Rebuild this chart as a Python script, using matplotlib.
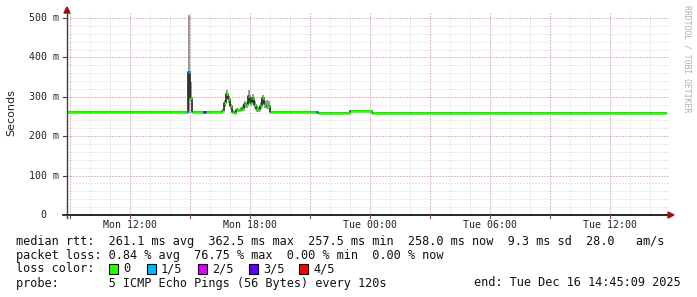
import matplotlib
matplotlib.use("Agg")
import matplotlib.pyplot as plt
from matplotlib.patches import Rectangle, Polygon

# ---------------- data ----------------
# time in hours since Mon 00:00 (start of each consolidated step)
times = [8.85, 12.0, 12.1, 14.8, 14.9, 15.0, 15.1, 15.65, 15.8,
         16.5, 16.6, 16.7, 16.8, 16.9, 17.0, 17.1, 17.2, 17.3, 17.4,
         17.5, 17.6, 17.7, 17.8, 17.9, 18.0, 18.1, 18.2, 18.3, 18.4,
         18.5, 18.6, 18.7, 18.8, 18.9,
         19.0, 21.25, 21.35, 21.4, 23.0, 24.1]
end_time = 38.8
median_ms = [260.5, 262, 260.5, 260.5, 363, 298, 260.5, 260.5, 260.5,
             261, 265, 285, 308, 295, 276, 262, 260, 266, 266,
             267, 270, 281, 280, 303, 285, 296, 280, 268, 267,
             276, 298, 282, 277, 276,
             260.5, 260.5, 260.5, 258.5, 263, 258.5]
loss = [0, 0, 0, 1, 1, 0, 0, 3, 0,
        0, 0, 0, 0, 0, 0, 0, 0, 0, 0,
        0, 0, 0, 0, 0, 0, 0, 0, 0, 0,
        0, 0, 0, 0, 0,
        0, 1, 2, 0, 0, 0]
smoke_lo = [260.5, 262, 260.5, 260.5, 260, 290, 260.5, 260.5, 260.5,
            261, 262, 275, 296, 285, 268, 258, 257, 262, 262,
            263, 265, 272, 272, 290, 276, 285, 272, 262, 262,
            268, 285, 272, 270, 268,
            260.5, 260.5, 260.5, 258.5, 263, 258.5]
smoke_hi = [260.5, 262, 260.5, 260.5, 507, 338, 260.5, 260.5, 260.5,
            261, 270, 292, 318, 302, 282, 266, 264, 272, 270,
            274, 278, 290, 288, 316, 292, 306, 290, 276, 274,
            288, 305, 290, 292, 290,
            260.5, 260.5, 260.5, 258.5, 263, 258.5]

loss_labels = ["0", "1/5", "2/5", "3/5", "4/5"]
loss_colors = ["#26ff00", "#00b8ff", "#dd00ff", "#5e00ff", "#ff0000"]

x_tick_pos = [12, 18, 24, 30, 36]
x_tick_labels = ["Mon 12:00", "Mon 18:00", "Tue 00:00", "Tue 06:00", "Tue 12:00"]
y_tick_pos = [0, 100, 200, 300, 400, 500]
y_tick_labels = ["0  ", "100 m", "200 m", "300 m", "400 m", "500 m"]

stats_lines = [
    "median rtt:  261.1 ms avg  362.5 ms max  257.5 ms min  258.0 ms now  9.3 ms sd  28.0   am/s",
    "packet loss: 0.84 % avg  76.75 % max  0.00 % min  0.00 % now",
    "loss color:",
    "probe:       5 ICMP Echo Pings (56 Bytes) every 120s",
]
end_text = "end: Tue Dec 16 14:45:09 2025"

# ---------------- figure ----------------
W, H = 697, 297
fig = plt.figure(figsize=(W / 100, H / 100), dpi=100)
fig.patch.set_facecolor("white")

PX_L, PX_R, PX_B, PX_T = 67, 667, 215, 13
X0, X1 = 8.85, 38.85
Y0, Y1 = 0, (PX_B - PX_T) / 0.394

ax = fig.add_axes([PX_L / W, 1 - PX_B / H, (PX_R - PX_L) / W, (PX_B - PX_T) / H])
ax.set_xlim(X0, X1)
ax.set_ylim(Y0, Y1)
for s in ax.spines.values():
    s.set_visible(False)
ax.set_facecolor("white")

def px2x(px):
    return X0 + (px - PX_L) * (X1 - X0) / (PX_R - PX_L)

def py2y(py):
    return (PX_B - py) / (PX_B - PX_T) * (Y1 - Y0)

dot = (0, (1, 2))
# minor grid
h = 9
while h <= X1 + 0.1:
    ax.plot([h, h], [0, Y1], color="#808080", alpha=0.35, lw=0.72, ls=dot, zorder=1, clip_on=False)
    h += 1
v = 20
while v <= 500:
    ax.plot([X0, px2x(669)], [v, v], color="#808080", alpha=0.35, lw=0.72, ls=dot, zorder=1, clip_on=False)
    v += 20
# major grid
h = 9
while h <= X1 + 0.1:
    ax.plot([h, h], [0, Y1], color="#ff0000", alpha=0.4, lw=0.72, ls=dot, zorder=1.1, clip_on=False)
    h += 3
for v in range(100, 501, 100):
    ax.plot([X0, px2x(669)], [v, v], color="#ff0000", alpha=0.4, lw=0.72, ls=dot, zorder=1.1, clip_on=False)

# data
t_ext = times + [end_time]
lo_ext = smoke_lo + [smoke_lo[-1]]
hi_ext = smoke_hi + [smoke_hi[-1]]
med_ext = median_ms + [median_ms[-1]]
ax.fill_between(t_ext, lo_ext, hi_ext, step="post", color="#9a9a9a", lw=0, zorder=2)
ax.step(t_ext, med_ext, where="post", color="#111111", lw=1.1, zorder=3)
for i in range(len(times)):
    ax.hlines(median_ms[i], t_ext[i], t_ext[i + 1], color=loss_colors[loss[i]],
              lw=1.9, zorder=4, capstyle="butt")

# axes lines and arrows
ax.plot([px2x(63), px2x(669)], [0, 0], color="black", lw=1.2, zorder=5, clip_on=False)
ax.plot([X0, X0], [py2y(218), py2y(11)], color="#404040", lw=1.0, zorder=5, clip_on=False)
ax.add_patch(Polygon([[px2x(668), py2y(212)], [px2x(668), py2y(218)], [px2x(674), py2y(215)]],
                     closed=True, color="#a01010", zorder=6, clip_on=False))
ax.add_patch(Polygon([[px2x(64), py2y(13)], [px2x(70), py2y(13)], [px2x(67), py2y(7)]],
                     closed=True, color="#a01010", zorder=6, clip_on=False))
# small ticks
h = 9
while h <= X1:
    ax.plot([h, h], [0, py2y(218)], color="#a04040", lw=0.8, zorder=5, clip_on=False)
    h += 3
for v in y_tick_pos:
    ax.plot([px2x(63), X0], [v, v], color="#404040", lw=0.8, zorder=5, clip_on=False)

# tick labels
ax.set_xticks([])
ax.set_yticks([])
for p, lab in zip(x_tick_pos, x_tick_labels):
    ax.text(p, py2y(225), lab, ha="center", va="center", fontsize=7.1,
            family="DejaVu Sans Mono", color="#222222", clip_on=False)
for p, lab in zip(y_tick_pos, y_tick_labels):
    ax.text(px2x(59), p, lab, ha="right", va="center", fontsize=7.1,
            family="DejaVu Sans Mono", color="#222222", clip_on=False)

fig.text(11 / W, 1 - 113 / H, "Seconds", rotation=90, ha="center", va="center",
         fontsize=8, family="DejaVu Sans", color="#222222")
fig.text(687 / W, 1 - 5 / H, "RRDTOOL / TOBI OETIKER", rotation=-90, ha="center", va="top",
         fontsize=5.9, family="DejaVu Sans Mono", color="#b0b0b0")

# bottom text
ys = [241, 255, 269, 283]
for y, line in zip(ys, stats_lines):
    fig.text(16 / W, 1 - y / H, line, ha="left", va="center", fontsize=8.55,
             family="DejaVu Sans Mono", color="#111111")
fig.text(681 / W, 1 - 283 / H, end_text, ha="right", va="center", fontsize=8.55,
         family="DejaVu Sans Mono", color="#111111")

box_x = [109, 147, 198, 249, 299]
for bx, lab, col in zip(box_x, loss_labels, loss_colors):
    fig.add_artist(Rectangle((bx / W, 1 - 274 / H), 9 / W, 10 / H, transform=fig.transFigure,
                             facecolor=col, edgecolor="black", lw=0.8))
    fig.text((bx + 14) / W, 1 - 269 / H, lab, ha="left", va="center", fontsize=8.55,
             family="DejaVu Sans Mono", color="#111111")

fig.savefig("out.png", dpi=100, facecolor="white")
